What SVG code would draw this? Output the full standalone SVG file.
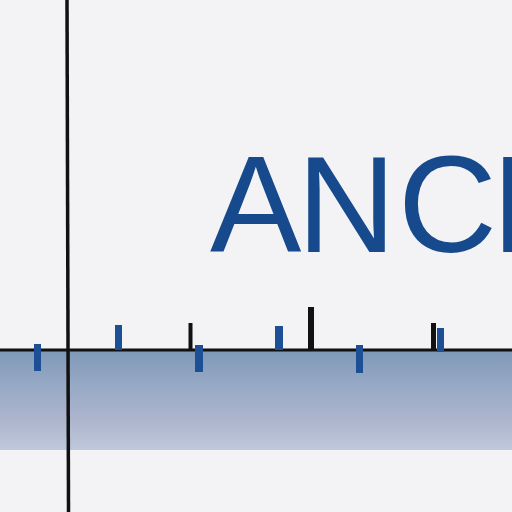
<svg xmlns="http://www.w3.org/2000/svg" width="512" height="512" viewBox="0 0 512 512">
<defs>
<linearGradient id="band" x1="0" y1="0" x2="0" y2="1">
<stop offset="0" stop-color="#7f98b8"/>
<stop offset="0.35" stop-color="#96a9c5"/>
<stop offset="0.7" stop-color="#adb5cd"/>
<stop offset="1" stop-color="#c0c8dc"/>
</linearGradient>
<style>
.blue{fill:#1d4f94}
.blk{fill:#111}
.t{font-family:"Liberation Sans", Arial, sans-serif;font-size:137px;fill:#164a8c}
</style>
</defs>
<rect width="512" height="512" fill="#f3f3f6"/>
<rect x="0" y="350" width="512" height="100" fill="url(#band)"/>
<text class="t" y="252"><tspan x="210">A</tspan><tspan x="297">N</tspan><tspan x="398">C</tspan><tspan x="492">H</tspan></text>
<g id="axes">
<rect x="0" y="348.5" width="512" height="3" class="blk"/>
<line x1="67" y1="0" x2="68.5" y2="512" stroke="#111" stroke-width="3.5"/>
</g>
<g id="ticks">
<rect x="34" y="344" width="7" height="27" class="blue"/>
<rect x="115" y="325" width="7" height="25" class="blue"/>
<rect x="188.5" y="323" width="4" height="27" class="blk"/>
<rect x="195" y="345" width="8" height="27" class="blue"/>
<rect x="275" y="326" width="8" height="24" class="blue"/>
<rect x="308" y="307" width="6" height="44" class="blk"/>
<rect x="356" y="345" width="7" height="28" class="blue"/>
<rect x="431" y="323" width="5" height="27" class="blk"/>
<rect x="437" y="328" width="7" height="24" class="blue"/>
</g>
</svg>
